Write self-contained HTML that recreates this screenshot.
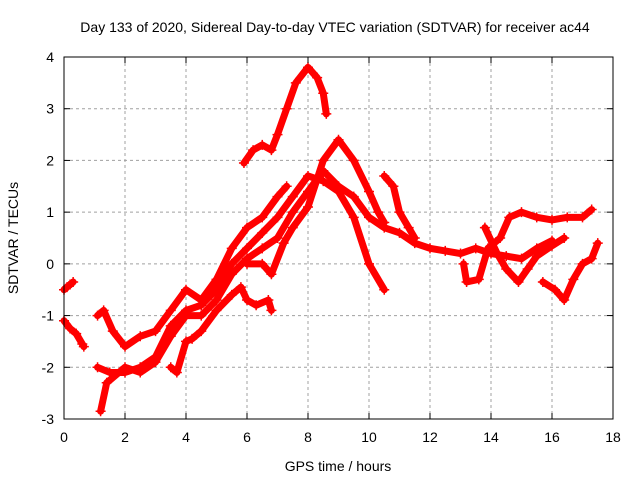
<!DOCTYPE html>
<html><head><meta charset="utf-8"><style>
body{margin:0;background:#fff}
svg text{font-family:"Liberation Sans",sans-serif;font-size:14px;fill:#000}
</style></head><body>
<svg id="c" width="640" height="480">
<text x="335" y="32" text-anchor="middle">Day 133 of 2020, Sidereal Day-to-day VTEC variation (SDTVAR) for receiver ac44</text>
<text x="338" y="471" text-anchor="middle">GPS time / hours</text>
<text transform="translate(18,238) rotate(-90)" text-anchor="middle">SDTVAR / TECUs</text>
<g id="grid"></g><g id="ser"></g><g id="ax"></g>
</svg>
<script>
const xTicks=[0,2,4,6,8,10,12,14,16,18];
const yTicks=[-3,-2,-1,0,1,2,3,4];
const tA=[0,0.1,0.2,0.3];const vA=[-0.5,-0.45,-0.4,-0.35];
const tB=[0,0.2,0.4,0.6,0.65];const vB=[-1.1,-1.25,-1.35,-1.55,-1.6];
const t1=[1.1,1.3,1.6,2.0,2.5,3.0,3.5,4.0,4.5,5.0,5.5,6.0,6.5,7.0,7.3];
const v1=[-1.0,-0.9,-1.3,-1.6,-1.4,-1.3,-0.9,-0.5,-0.7,-0.3,0.3,0.7,0.9,1.3,1.5];
const t2=[1.1,1.5,2.0,2.5,3.0,3.5,4.0,4.5,5.0,5.5,6.0,6.5,7.0,7.5,8.0,8.5,9.0,9.5,10.0,10.5];
const v2=[-2.0,-2.1,-2.1,-2.0,-1.8,-1.2,-0.9,-0.8,-0.5,0.0,0.3,0.6,0.9,1.3,1.7,1.6,1.4,0.9,0.0,-0.5];
const t3=[1.2,1.4,2.0,2.5,3.0,3.5,4.0,4.5,5.0,5.5,6.0,6.5,7.0,7.5,8.0,8.5,9.0,9.5,10.0,10.5,11.0,11.5,12,12.5,13,13.5,14,14.5,15,15.5,16];
const v3=[-2.85,-2.3,-2.0,-2.1,-1.9,-1.4,-1.0,-1.0,-0.7,-0.2,0.1,0.3,0.5,1.0,1.4,1.8,1.5,1.3,0.9,0.7,0.6,0.4,0.3,0.25,0.2,0.3,0.2,0.15,0.1,0.3,0.45];
const t4=[3.5,3.7,4.0,4.2,4.5,5.0,5.5,5.8,6.0,6.3,6.7,6.8];
const v4=[-2.0,-2.1,-1.5,-1.45,-1.3,-0.9,-0.6,-0.45,-0.7,-0.8,-0.7,-0.9];
const t5=[6.0,6.5,6.8,7.2,7.5,8.0,8.5,9.0,9.5,10.0,10.3,10.5];
const v5=[0.0,0.0,-0.2,0.4,0.7,1.1,2.0,2.4,2.0,1.4,1.0,0.8];
const t6=[5.9,6.2,6.5,6.8,7.0,7.3,7.6,8.0,8.3,8.5,8.6];
const v6=[1.95,2.2,2.3,2.2,2.5,3.0,3.5,3.8,3.6,3.3,2.9];
const t7=[10.5,10.8,11.0,11.3,11.5];const v7=[1.7,1.5,1.0,0.7,0.5];
const t8=[13.1,13.2,13.6,13.9,14.3,14.6,15,15.5,16,16.5,17,17.3];
const v8=[0.0,-0.35,-0.3,0.3,0.5,0.9,1.0,0.9,0.85,0.9,0.9,1.05];
const t9=[13.8,14.2,14.5,14.9,15.2,15.5,16,16.4];const v9=[0.7,0.2,-0.1,-0.35,-0.1,0.15,0.35,0.5];
const t10=[15.7,16.1,16.4,16.7,17.0,17.3,17.5];const v10=[-0.35,-0.5,-0.7,-0.3,0.0,0.1,0.4];
const series=[[tA,vA],[tB,vB],[t1,v1],[t2,v2],[t3,v3],[t4,v4],[t5,v5],[t6,v6],[t7,v7],[t8,v8],[t9,v9],[t10,v10]];
const X0=64,X1=613,Y0=419,Y1=57;
const sx=t=>X0+(t-0)/18*(X1-X0);
const sy=v=>Y0-(v+3)/7*(Y0-Y1);
const NS="http://www.w3.org/2000/svg";
function mk(tag,at,par){const e=document.createElementNS(NS,tag);for(const k in at)e.setAttribute(k,at[k]);par.appendChild(e);return e;}
const g=document.getElementById('grid'),ax=document.getElementById('ax'),s=document.getElementById('ser');
xTicks.forEach(t=>{const x=sx(t);
 if(t>0&&t<18){const l=mk('line',{x1:x,x2:x,y1:Y1,y2:Y0,stroke:'#a0a0a0','stroke-dasharray':'3,3'},g);
 
 }
 mk('line',{x1:x,x2:x,y1:Y0,y2:Y0-6,stroke:'#000'},ax);mk('line',{x1:x,x2:x,y1:Y1,y2:Y1+6,stroke:'#000'},ax);
 const tx=mk('text',{x:x,y:Y0+23,'text-anchor':'middle'},ax);tx.textContent=t;
 
 });
yTicks.forEach(v=>{const y=sy(v);
 if(v>-3&&v<4){const l=mk('line',{x1:X0,x2:X1,y1:y,y2:y,stroke:'#a0a0a0','stroke-dasharray':'3,3'},g);
 
 }
 mk('line',{x1:X0,x2:X0+6,y1:y,y2:y,stroke:'#000'},ax);mk('line',{x1:X1,x2:X1-6,y1:y,y2:y,stroke:'#000'},ax);
 const tx=mk('text',{x:X0-10,y:y+5,'text-anchor':'end'},ax);tx.textContent=v;
 
 });
const fr=mk('rect',{x:X0,y:Y1,width:X1-X0,height:Y0-Y1,fill:'none',stroke:'#000'},ax);


series.forEach(([t,v],i)=>{
 const pts=t.map((tt,j)=>sx(tt)+','+sy(v[j])).join(' ');
 const pl=mk('polyline',{points:pts,fill:'none',stroke:'#f00','stroke-width':7,'stroke-linejoin':'round','stroke-linecap':'round'},s);
 
 
 t.forEach((tt,j)=>{const x=sx(tt),y=sy(v[j]);
  const m=mk('path',{d:`M${x-5},${y}H${x+5}M${x},${y-5}V${y+5}`,stroke:'#f00','stroke-width':1.5},s);
  
  });
});
</script>
</body></html>
